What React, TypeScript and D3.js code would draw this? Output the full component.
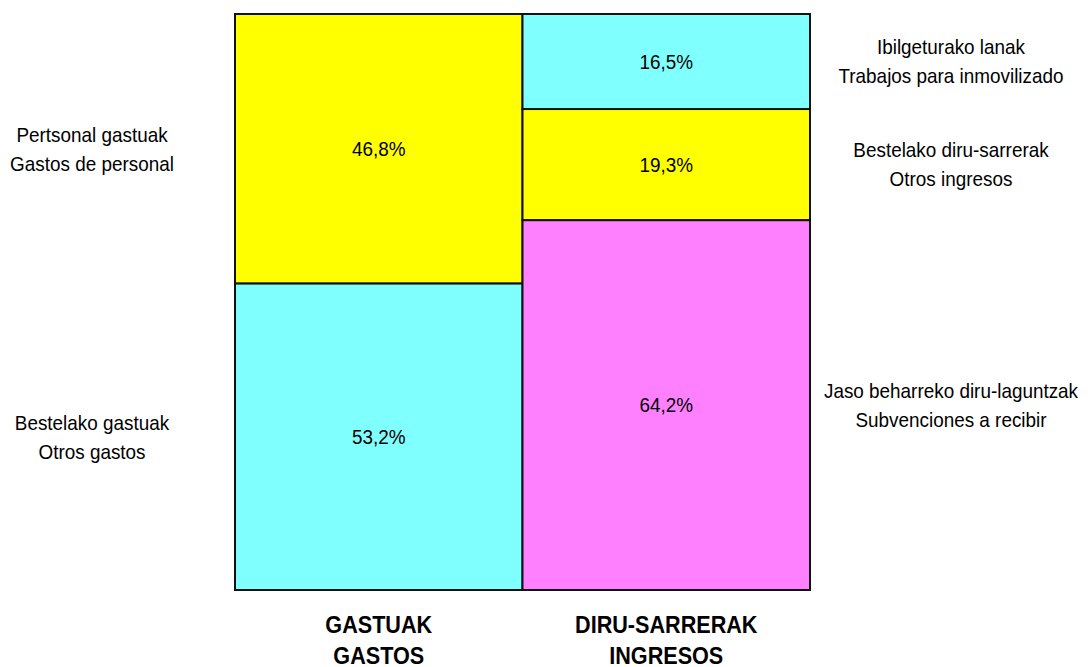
import React, { useRef, useEffect } from "react";
import * as d3 from "d3";

const columns = ["GASTUAK\nGASTOS", "DIRU-SARRERAK\nINGRESOS"];
const expenseLabels = ["Pertsonal gastuak\nGastos de personal", "Bestelako gastuak\nOtros gastos"];
const expenseValues = [46.8, 53.2];
const expenseColors = ["#ffff00", "#80ffff"];
const incomeLabels = [
    "Ibilgeturako lanak\nTrabajos para inmovilizado",
    "Bestelako diru-sarrerak\nOtros ingresos",
    "Jaso beharreko diru-laguntzak\nSubvenciones a recibir",
];
const incomeValues = [16.5, 19.3, 64.2];
const incomeColors = ["#80ffff", "#ffff00", "#ff80ff"];

const FONT = "'Liberation Sans', Arial, sans-serif";
const SQUEEZE = 0.9; // narrow look of the original font

const App: React.FC = () => {
    const ref = useRef<SVGSVGElement | null>(null);

    useEffect(() => {
        if (!ref.current) return;
        const svg = d3.select(ref.current);
        svg.selectAll("*").remove();

        const margin = { top: 14, left: 235, right: 278, bottom: 77 };
        const width = 1088;
        const height = 667;

        const x = d3
            .scaleBand()
            .domain(columns)
            .range([margin.left, width - margin.right])
            .padding(0);
        const y = d3
            .scaleLinear()
            .domain([0, 100])
            .range([margin.top, height - margin.bottom]);

        // multi-line, horizontally squeezed text
        const label = (
            cx: number,
            cy: number,
            txt: string,
            size: number,
            gap: number,
            bold = false
        ) => {
            const lines = txt.split("\n");
            const g = svg
                .append("g")
                .attr("transform", `translate(${cx},${cy}) scale(${SQUEEZE},1)`);
            const t = g
                .append("text")
                .attr("text-anchor", "middle")
                .attr("font-family", FONT)
                .attr("font-size", size)
                .attr("font-weight", bold ? "bold" : "normal")
                .attr("fill", "#000");
            lines.forEach((ln, i) => {
                t.append("tspan")
                    .attr("x", 0)
                    .attr("y", (i - (lines.length - 1) / 2) * gap)
                    .attr("dy", "0.35em")
                    .text(ln);
            });
        };

        const stacks = [
            { col: columns[0], values: expenseValues, colors: expenseColors, labels: expenseLabels, lx: 92 },
            { col: columns[1], values: incomeValues, colors: incomeColors, labels: incomeLabels, lx: 951 },
        ];

        const fmt = (v: number) => v.toFixed(1).replace(".", ",") + "%";

        stacks.forEach(s => {
            const cum = d3.cumsum(s.values);
            const segs = s.values.map((v, i) => ({
                v,
                y0: cum[i] - v,
                y1: cum[i],
                color: s.colors[i],
                label: s.labels[i],
            }));
            svg.append("g")
                .selectAll("rect")
                .data(segs)
                .enter()
                .append("rect")
                .attr("x", x(s.col)!)
                .attr("y", d => y(d.y0))
                .attr("width", x.bandwidth())
                .attr("height", d => y(d.y1) - y(d.y0))
                .attr("fill", d => d.color)
                .attr("stroke", "#111")
                .attr("stroke-width", 2);

            segs.forEach(d => {
                const cy = (y(d.y0) + y(d.y1)) / 2;
                label(x(s.col)! + x.bandwidth() / 2, cy, fmt(d.v), 21, 0);
                label(s.lx, cy, d.label, 21, 29);
            });
        });

        columns.forEach(c => {
            label(x(c)! + x.bandwidth() / 2, 640, c, 24, 31, true);
        });
    }, []);

    return (
        <svg
            ref={ref}
            width={1088}
            height={667}
            style={{ position: "absolute", left: 0, top: 0, background: "#fff" }}
        />
    );
};

export default App;
